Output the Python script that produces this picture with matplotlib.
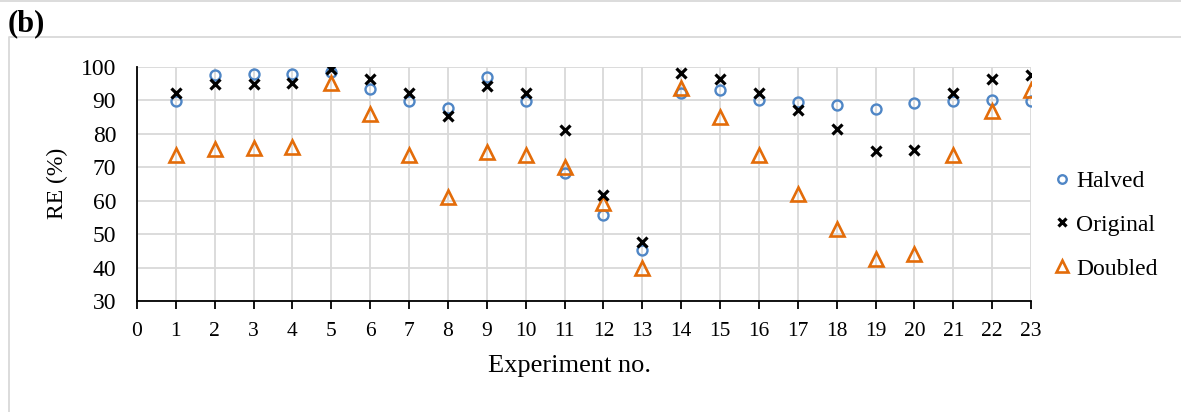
import matplotlib
matplotlib.use("Agg")
import matplotlib.pyplot as plt
from matplotlib.lines import Line2D

experiments = list(range(1, 24))
halved = [89.8, 97.5, 97.8, 97.8, 98.5, 93.2, 89.8, 87.8, 97.0, 89.8, 68.2, 55.7,
          45.2, 92.0, 93.0, 90.0, 89.5, 88.7, 87.4, 89.3, 89.8, 90.0, 89.8]
original = [92.2, 94.8, 94.9, 95.1, 99.3, 96.4, 92.2, 85.4, 94.2, 92.2, 81.0, 61.8,
            47.7, 98.2, 96.4, 92.2, 87.0, 81.5, 74.7, 75.0, 92.2, 96.2, 97.4]
doubled = [73.6, 75.5, 75.8, 76.0, 95.2, 85.8, 73.7, 61.1, 74.6, 73.7, 70.1, 59.2,
           39.9, 93.7, 85.1, 73.7, 61.9, 51.5, 42.5, 44.1, 73.5, 86.9, 93.0]
series_names = ["Halved", "Original", "Doubled"]
x_ticks = list(range(0, 24))
y_ticks = list(range(30, 101, 10))

plt.rcParams['font.family'] = ['Liberation Serif', 'DejaVu Serif']

W, H = 1181, 412
fig = plt.figure(figsize=(W / 100, H / 100), dpi=100)
ax = fig.add_axes([137 / W, (H - 301) / H, (1031 - 137) / W, (301 - 66.7) / H])

ax.plot(experiments, halved, linestyle='none', marker='o', markersize=7.2,
        markerfacecolor='none', markeredgecolor='#4F86C6', markeredgewidth=1.7,
        label=series_names[0], zorder=3)
ax.plot(experiments, original, linestyle='none', marker='x', markersize=7.5,
        color='black', markeredgewidth=2.3, label=series_names[1], zorder=4)
ax.plot(experiments, doubled, linestyle='none', marker='^', markersize=10.5,
        markerfacecolor='none', markeredgecolor='#E36C09', markeredgewidth=1.9,
        label=series_names[2], zorder=3)

ax.set_xlim(0, 23)
ax.set_ylim(30, 100)
ax.set_xticks(x_ticks)
ax.set_yticks(y_ticks)
ax.grid(True, color='#D9D9D9', linewidth=1.3, zorder=0)
ax.set_axisbelow(True)
for s in ['top', 'right']:
    ax.spines[s].set_visible(False)
ax.spines['left'].set_linewidth(1.3)
ax.spines['bottom'].set_linewidth(1.3)
ax.tick_params(axis='x', direction='out', length=6, width=1.3, labelsize=15.5, pad=9)
ax.tick_params(axis='y', length=0, labelsize=17, pad=15)
ax.set_xlabel('Experiment no.', fontsize=19)
ax.set_ylabel('RE (%)', fontsize=17)
ax.xaxis.set_label_coords((570 - 137) / 894, -(366 - 301) / 234.3)
ax.xaxis.label.set_va('center')
ax.yaxis.set_label_coords((57 - 137) / 894, 0.5)
ax.yaxis.label.set_va('center')

handles, labels = ax.get_legend_handles_labels()
leg = fig.legend(handles, labels, loc='center left', bbox_to_anchor=(1049 / W, 1 - 225 / H),
                 frameon=False, fontsize=17, handletextpad=0.05, labelspacing=0.95,
                 handlelength=1.1, borderpad=0, borderaxespad=0)
for h in leg.legend_handles:
    h.set_markersize(h.get_markersize() * 0.85)

fig.text(8 / W, 1 - 24 / H, '(b)', fontsize=22, fontweight='bold', va='center', ha='left')

fig.add_artist(Line2D([0, 1], [1 - 1 / H, 1 - 1 / H], color='#D9D9D9', linewidth=1.3,
                      transform=fig.transFigure))
fig.add_artist(Line2D([8.5 / W, 8.5 / W, 1], [0, 1 - 37 / H, 1 - 37 / H], color='#D9D9D9',
                      linewidth=1.3, transform=fig.transFigure))

fig.savefig('out.png', dpi=100)
